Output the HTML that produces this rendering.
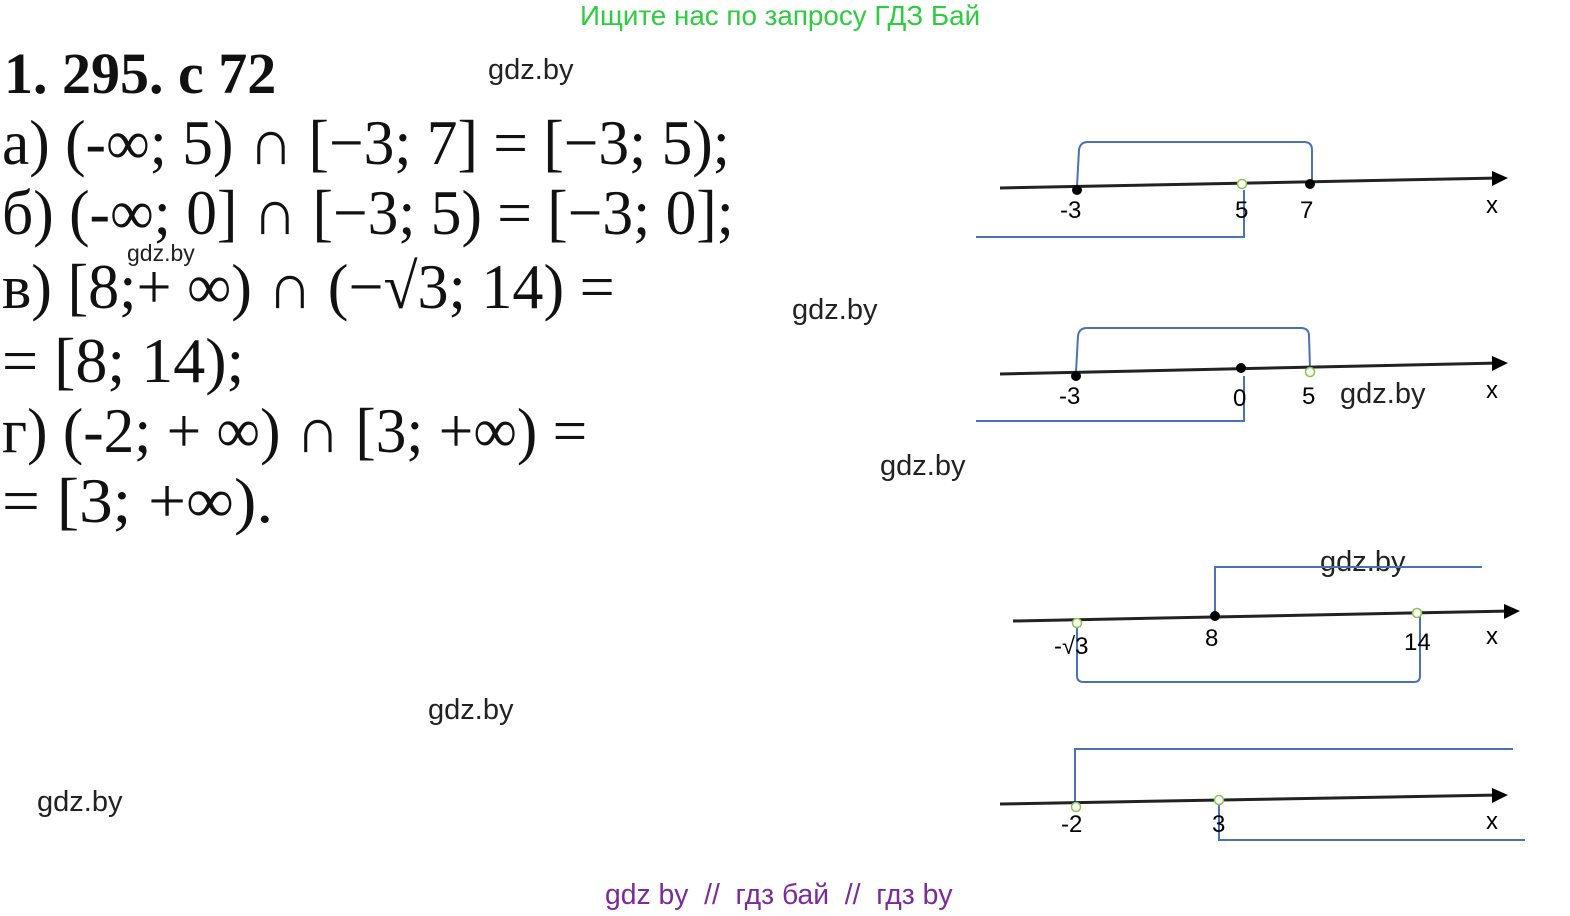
<!DOCTYPE html>
<html><head><meta charset="utf-8"><style>
html,body{margin:0;padding:0;background:#fff;}
#page{position:relative;width:1570px;height:916px;overflow:hidden;background:#fff;}
.t{position:absolute;white-space:nowrap;font-family:"Liberation Serif","DejaVu Serif",serif;color:#111;transform-origin:0 0;}
.w{position:absolute;white-space:nowrap;font-family:"Liberation Sans","DejaVu Sans",sans-serif;font-size:29px;color:#222;}
</style></head><body>
<div id="page">
<div class="w" style="left:580px;top:0px;color:#2ecc40;font-size:27.8px;">Ищите нас по запросу ГДЗ Бай</div>
<div class="t" style="left:4px;top:40px;font-size:58px;font-weight:bold;">1. 295. с 72</div>
<div class="w" style="left:488px;top:54px;">gdz.by</div>
<div class="t" style="left:2px;top:106px;font-size:64px;transform:scaleX(0.96);">а) (-∞; 5) ∩ [−3; 7] = [−3; 5);</div>
<div class="t" style="left:2px;top:176px;font-size:64px;transform:scaleX(0.96);">б) (-∞; 0] ∩ [−3; 5) = [−3; 0];</div>
<div class="w" style="left:127px;top:240px;font-size:23px;">gdz.by</div>
<div class="t" style="left:2px;top:250px;font-size:64px;transform:scaleX(0.97);">в) [8;+ ∞) ∩ (−√3; 14) =</div>
<div class="t" style="left:2px;top:324px;font-size:64px;transform:scaleX(1.0);">= [8; 14);</div>
<div class="t" style="left:2px;top:394px;font-size:64px;transform:scaleX(0.957);">г) (-2; + ∞) ∩ [3; +∞) =</div>
<div class="t" style="left:2px;top:464px;font-size:64px;transform:scaleX(1.05);">= [3; +∞).</div>
<div class="w" style="left:792px;top:294px;">gdz.by</div>
<div class="w" style="left:1340px;top:378px;">gdz.by</div>
<div class="w" style="left:880px;top:450px;">gdz.by</div>
<div class="w" style="left:1320px;top:546px;">gdz.by</div>
<div class="w" style="left:428px;top:694px;">gdz.by</div>
<div class="w" style="left:37px;top:786px;">gdz.by</div>
<div class="w" style="left:605px;top:878px;color:#7b2a9a;font-size:28.3px;">gdz by&nbsp; // &nbsp;гдз бай&nbsp; // &nbsp;гдз by</div>

<svg width="1570" height="916" style="position:absolute;left:0;top:0" font-family="Liberation Sans, sans-serif" font-size="24">
<g>
<path d="M1077,186 L1079,150 Q1080,142 1088,142 L1304,142 Q1312,142 1312,150 L1312,182" stroke="#4a72b8" stroke-width="2" fill="none"/>
<path d="M976,237 L1244,237 L1244,190" stroke="#4a72b8" stroke-width="2" fill="none"/>
<line x1="1000" y1="188" x2="1500" y2="178" stroke="#222" stroke-width="3"/>
<path d="M1492,171 L1508,178 L1492,186 z" fill="#000"/>
<circle cx="1077" cy="190" r="5" fill="#000"/><circle cx="1242" cy="184" r="4.5" fill="#fff" stroke="#8bc34a" stroke-width="1.5"/><circle cx="1310" cy="184" r="5" fill="#000"/>
<text x="1060" y="218">-3</text><text x="1235" y="218">5</text><text x="1300" y="218">7</text><text x="1486" y="213">x</text>
</g>
<g>
<path d="M1076,372 L1078,336 Q1079,328 1087,328 L1301,328 Q1309,328 1309,336 L1310,368" stroke="#4a72b8" stroke-width="2" fill="none"/>
<path d="M976,421 L1244,421 L1244,376" stroke="#4a72b8" stroke-width="2" fill="none"/>
<line x1="1000" y1="374" x2="1500" y2="363" stroke="#222" stroke-width="3"/>
<path d="M1492,356 L1508,363 L1492,371 z" fill="#000"/>
<circle cx="1076" cy="376" r="5" fill="#000"/><circle cx="1241" cy="368" r="5" fill="#000"/><circle cx="1310" cy="372" r="4.5" fill="#fff" stroke="#8bc34a" stroke-width="1.5"/>
<text x="1059" y="404">-3</text><text x="1233" y="406">0</text><text x="1302" y="404">5</text><text x="1486" y="398">x</text>
</g>
<g>
<path d="M1215,614 L1215,567 L1482,567" stroke="#4a72b8" stroke-width="2" fill="none"/>
<path d="M1077,624 L1077,676 Q1077,682 1084,682 L1414,682 Q1420,682 1420,676 L1420,616" stroke="#4a72b8" stroke-width="2" fill="none"/>
<line x1="1013" y1="621" x2="1512" y2="611" stroke="#222" stroke-width="3"/>
<path d="M1504,604 L1520,611 L1504,619 z" fill="#000"/>
<circle cx="1077" cy="623" r="4.5" fill="#fff" stroke="#8bc34a" stroke-width="1.5"/><circle cx="1215" cy="616" r="5" fill="#000"/><circle cx="1417" cy="613" r="4.5" fill="#fff" stroke="#8bc34a" stroke-width="1.5"/>
<text x="1054" y="654">-√3</text><text x="1205" y="646">8</text><text x="1404" y="650">14</text><text x="1486" y="644">x</text>
</g>
<g>
<path d="M1075,806 L1075,749 L1513,749" stroke="#4a72b8" stroke-width="2" fill="none"/>
<path d="M1219,800 L1219,840 L1525,840" stroke="#4a72b8" stroke-width="2" fill="none"/>
<line x1="1000" y1="804" x2="1500" y2="795" stroke="#222" stroke-width="3"/>
<path d="M1492,788 L1508,795 L1492,803 z" fill="#000"/>
<circle cx="1076" cy="807" r="4.5" fill="#fff" stroke="#8bc34a" stroke-width="1.5"/><circle cx="1219" cy="800" r="4.5" fill="#fff" stroke="#8bc34a" stroke-width="1.5"/>
<text x="1061" y="832">-2</text><text x="1212" y="832">3</text><text x="1486" y="829">x</text>
</g>
</svg>
</div>
</body></html>
